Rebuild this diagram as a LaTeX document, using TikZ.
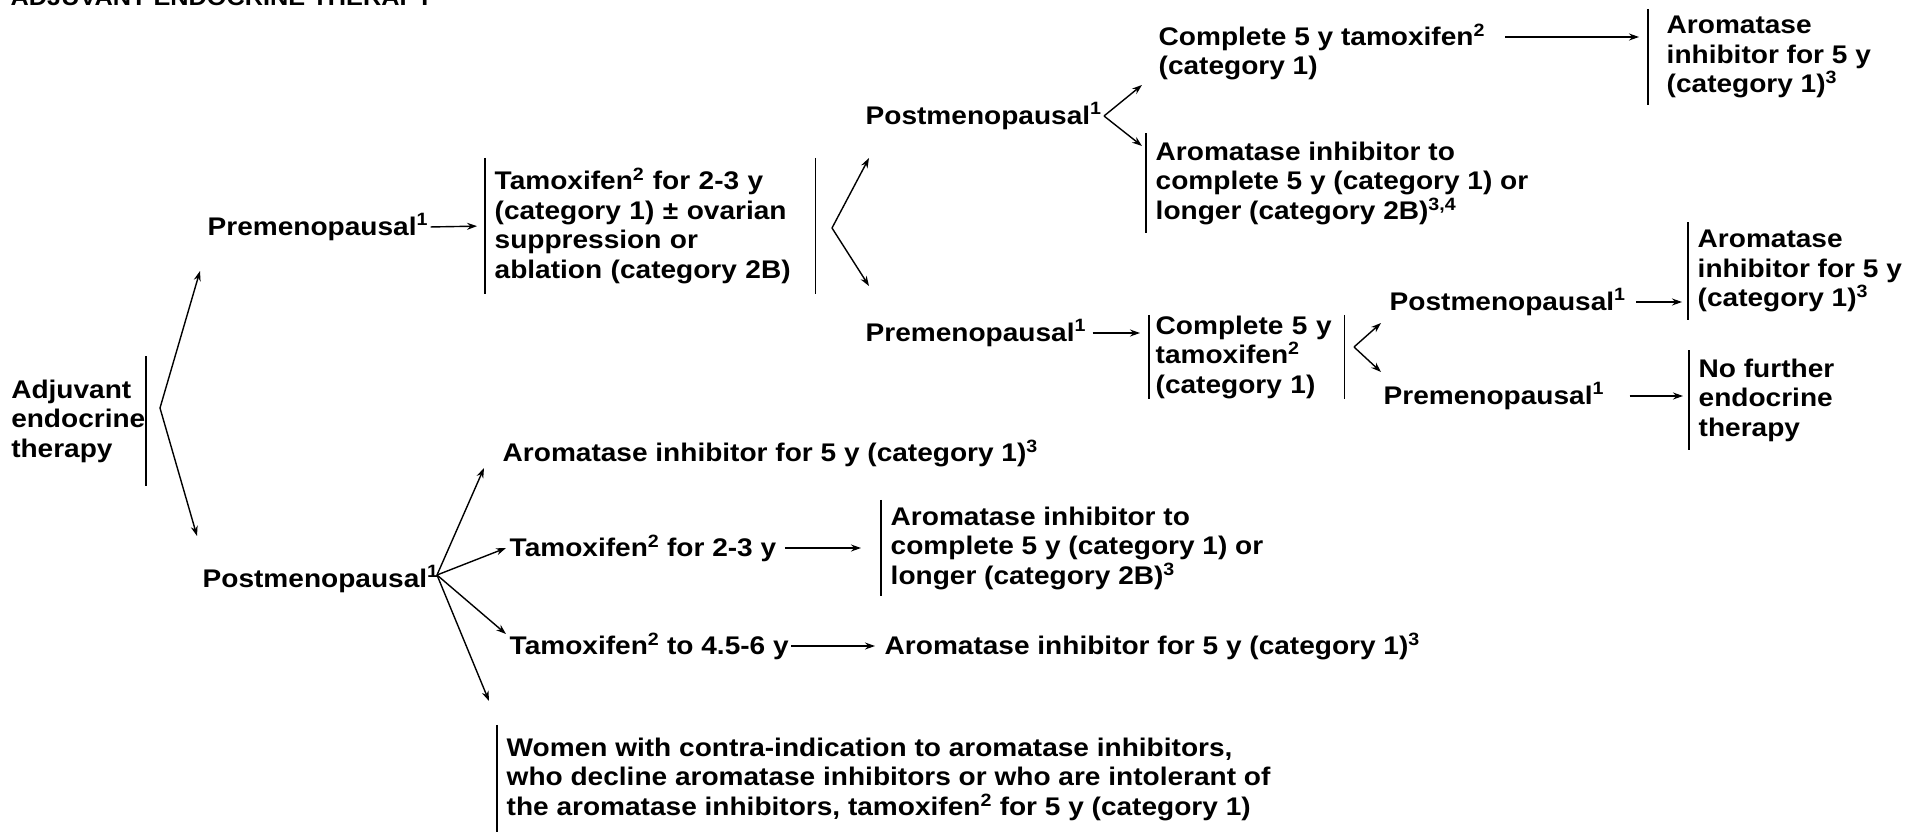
\documentclass[tikz,border=0pt]{standalone}
\usepackage{fontspec}
\setmainfont{Liberation Sans}[FakeStretch=1.1]
\usetikzlibrary{arrows.meta}
\newcommand{\sups}[1]{\textsuperscript{#1}}
\begin{document}
\begin{tikzpicture}[x=1pt,y=-1pt,line width=1.4pt,>={Stealth[length=10pt,width=7pt]},
	every node/.style={font=\fontsize{25.5}{29.5}\selectfont\bfseries,inner sep=0pt,anchor=west},
	lbar/.style={align=left,inner xsep=9pt,minimum height=#1,append after command={(\tikzlastnode.north west) edge[-] (\tikzlastnode.south west)}},
	rbar/.style={append after command={(\tikzlastnode.north east) edge[-] (\tikzlastnode.south east)}}]
			\useasboundingbox (0,0) rectangle (1911,832);
			\node[anchor=base west,font=\fontsize{23}{28}\selectfont\bfseries] (title) at (10,6) {ADJUVANT ENDOCRINE THERAPY};

			\node[anchor=east,align=left,minimum height=128pt,rbar] (adj) at (146,421) {Adjuvant\\endocrine\\therapy};
			\coordinate (j0) at (160,408);
			\coordinate (t0a) at (200,271);
			\coordinate (t0b) at (197,536);
			\node (preA) at (207,227) {Premenopausal\sups{1}};
			\node[lbar=135pt,rbar,text width=311pt] (tam) at (485,226) {Tamoxifen\sups{2} for 2-3 y\\(category 1) ± ovarian\\suppression or\\ablation (category 2B)};

			\coordinate (j1) at (832,228);
			\coordinate (t1a) at (869,158);
			\coordinate (t1b) at (869,286);
			\node (postB) at (865,116) {Postmenopausal\sups{1}};
			\coordinate (j2) at (1104,116);
			\coordinate (t2a) at (1142,85);
			\coordinate (t2b) at (1142,146);
			\node[align=left] (comp) at (1158,52) {Complete 5 y tamoxifen\sups{2}\\(category 1)};
			\coordinate (a1) at (1505,37);
			\node[lbar=95pt,inner xsep=18pt] (ai1) at (1648,57) {Aromatase\\inhibitor for 5 y\\(category 1)\sups{3}};
			\node[lbar=98pt] (ai2) at (1146,183) {Aromatase inhibitor to\\complete 5 y (category 1) or\\longer (category 2B)\sups{3,4}};

			\node (preB) at (865,333) {Premenopausal\sups{1}};
			\node[lbar=83pt,rbar,text width=182pt,inner xsep=6pt] (comp2) at (1149,357) {Complete 5 y\\tamoxifen\sups{2}\\(category 1)};
			\coordinate (j3) at (1354,347);
			\coordinate (t3a) at (1381,323);
			\coordinate (t3b) at (1381,372);
			\node (postC) at (1389,302) {Postmenopausal\sups{1}};
			\node (preC) at (1383,396) {Premenopausal\sups{1}};
			\node[lbar=96pt] (ai3) at (1688,271) {Aromatase\\inhibitor for 5 y\\(category 1)\sups{3}};
			\node[lbar=98pt] (nofu) at (1689,400) {No further\\endocrine\\therapy};

			\node (postA) at (202,579) {Postmenopausal\sups{1}};
			\coordinate (j4) at (437,575);
			\coordinate (t4a) at (484,468);
			\coordinate (t4b) at (506,548);
			\coordinate (t4c) at (506,634);
			\coordinate (t4d) at (489,701);
			\node (aiA) at (502,453) {Aromatase inhibitor for 5 y (category 1)\sups{3}};
			\node (tamA) at (509,548) {Tamoxifen\sups{2} for 2-3 y};
			\node[lbar=95pt] (ai4) at (881,548) {Aromatase inhibitor to\\complete 5 y (category 1) or\\longer (category 2B)\sups{3}};
			\node (tamB) at (509,646) {Tamoxifen\sups{2} to 4.5-6 y};
			\node (ai5) at (884,646) {Aromatase inhibitor for 5 y (category 1)\sups{3}};
			\node[lbar=107pt] (women) at (497,779) {Women with contra-indication to aromatase inhibitors,\\who decline aromatase inhibitors or who are intolerant of\\the aromatase inhibitors, tamoxifen\sups{2} for 5 y (category 1)};

			\path[->]
				(j0) edge (t0a)
				(j0) edge (t0b)
				(preA.east) edge[shorten <=2pt,shorten >=8pt] (tam.west)
				(j1) edge (t1a)
				(j1) edge (t1b)
				(j2) edge (t2a)
				(j2) edge (t2b)
				(a1) edge[shorten >=9pt] (ai1.west |- a1)
				(preB.east) edge[shorten <=6pt,shorten >=9pt] (comp2.west |- preB.east)
				(j3) edge (t3a)
				(j3) edge (t3b)
				(postC.east) edge[shorten <=10pt,shorten >=6pt] (ai3.west |- postC.east)
				(preC.east) edge[shorten <=25pt,shorten >=6pt] (nofu.west |- preC.east)
				(j4) edge (t4a)
				(j4) edge (t4b)
				(j4) edge (t4c)
				(j4) edge (t4d)
				(tamA.east) edge[shorten <=8pt,shorten >=20pt] (ai4.west |- tamA.east)
				(tamB.east) edge[shorten <=2pt,shorten >=9pt] (ai5.west)
				;
		\end{tikzpicture}
\end{document}
